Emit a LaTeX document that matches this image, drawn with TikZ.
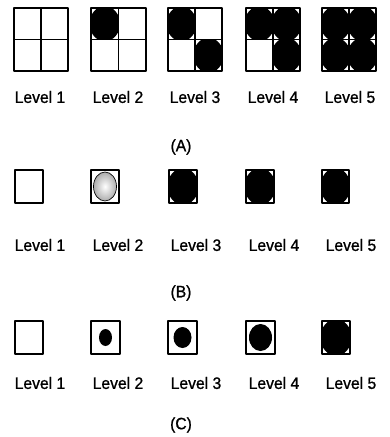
\documentclass[tikz,border=0pt]{standalone}
\usepackage{fontspec}
\setmainfont{Liberation Sans}
\begin{document}
\begin{tikzpicture}[x=1pt,y=-1pt,
  frame/.style={draw=black,line width=1.7pt,line join=round},
  lbl/.style={font=\fontsize{16.5}{18}\selectfont\addfontfeature{FakeStretch=0.95,FakeBold=1},inner sep=0pt,anchor=center},
  captxt/.style={font=\fontsize{16.5}{18}\selectfont\addfontfeature{FakeStretch=0.95,FakeBold=1},inner sep=0pt,anchor=center},
  blob/.style={fill=black}]
\useasboundingbox (0,0) rectangle (390,437);

% ---------------- Row A: 2x2 grids ----------------
\newcommand{\cellfill}[4]{% x0 y0 x1 y1
  \begin{scope}
    \clip (#1,#2) rectangle (#3,#4);
    \fill[blob] ({(#1+#3)/2},{(#2+#4)/2}) ellipse [x radius={0.555*(#3-#1)}, y radius={0.555*(#4-#2)}];
  \end{scope}}
\newcommand{\gridbox}[2]{% x0 x1
  \draw[frame] (#1,8) rectangle (#2,71);
  \draw[frame] ({(#1+#2)/2},8) -- ({(#1+#2)/2},71);
  \draw[frame] (#1,39.5) -- (#2,39.5);}

% Level 2
\cellfill{91}{8}{118.5}{39.5}
% Level 3
\cellfill{168}{8}{195}{39.5}
\cellfill{195}{39.5}{222}{71}
% Level 4
\cellfill{246}{8}{273}{39.5}
\cellfill{273}{8}{300}{39.5}
\cellfill{273}{39.5}{300}{71}
% Level 5
\cellfill{322}{8}{349}{39.5}
\cellfill{349}{8}{376}{39.5}
\cellfill{322}{39.5}{349}{71}
\cellfill{349}{39.5}{376}{71}

\gridbox{14}{68}
\gridbox{91}{146}
\gridbox{168}{222}
\gridbox{246}{300}
\gridbox{322}{376}

\node[lbl] (a1) at (40,97) {Level 1};
\node[lbl] (a2) at (118,97) {Level 2};
\node[lbl] (a3) at (195,97) {Level 3};
\node[lbl] (a4) at (273,97) {Level 4};
\node[lbl] (a5) at (350,97) {Level 5};
\node[captxt] (capA) at (181,147) {(A)};

% ---------------- Row B ----------------
% Level 2 grey ellipse
\shade[inner color=white,outer color=gray!65] (105,186.5) ellipse [x radius=11.5, y radius=14.5];
\draw[line width=0.7pt] (105,186.5) ellipse [x radius=11.5, y radius=14.5];
% Levels 3-5
\cellfill{169}{170}{197}{203}
\cellfill{246}{170}{274}{203}
\cellfill{322}{170}{349}{203}

\draw[frame] (15,170) rectangle (43,203);
\draw[frame] (91,170) rectangle (119,203);
\draw[frame] (169,170) rectangle (197,203);
\draw[frame] (246,170) rectangle (274,203);
\draw[frame] (322,170) rectangle (349,203);

\node[lbl] (b1) at (40,245) {Level 1};
\node[lbl] (b2) at (118,245) {Level 2};
\node[lbl] (b3) at (196,245) {Level 3};
\node[lbl] (b4) at (274,245) {Level 4};
\node[lbl] (b5) at (351,245) {Level 5};
\node[captxt] (capB) at (181,293) {(B)};

% ---------------- Row C ----------------
\fill[blob] (105.5,337.5) ellipse [x radius=6.5, y radius=8.5];
\fill[blob] (182.5,337.5) ellipse [x radius=9, y radius=10.5];
\fill[blob] (260.5,337.5) ellipse [x radius=11.5, y radius=13.5];
\cellfill{322}{321}{350}{354}

\draw[frame] (15,321) rectangle (43,354);
\draw[frame] (91,321) rectangle (120,354);
\draw[frame] (168,321) rectangle (197,354);
\draw[frame] (246,321) rectangle (275,354);
\draw[frame] (322,321) rectangle (350,354);

\node[lbl] (c1) at (40,383) {Level 1};
\node[lbl] (c2) at (118,383) {Level 2};
\node[lbl] (c3) at (196,383) {Level 3};
\node[lbl] (c4) at (274,383) {Level 4};
\node[lbl] (c5) at (351,383) {Level 5};
\node[captxt] (capC) at (181,425) {(C)};
\end{tikzpicture}
\end{document}
